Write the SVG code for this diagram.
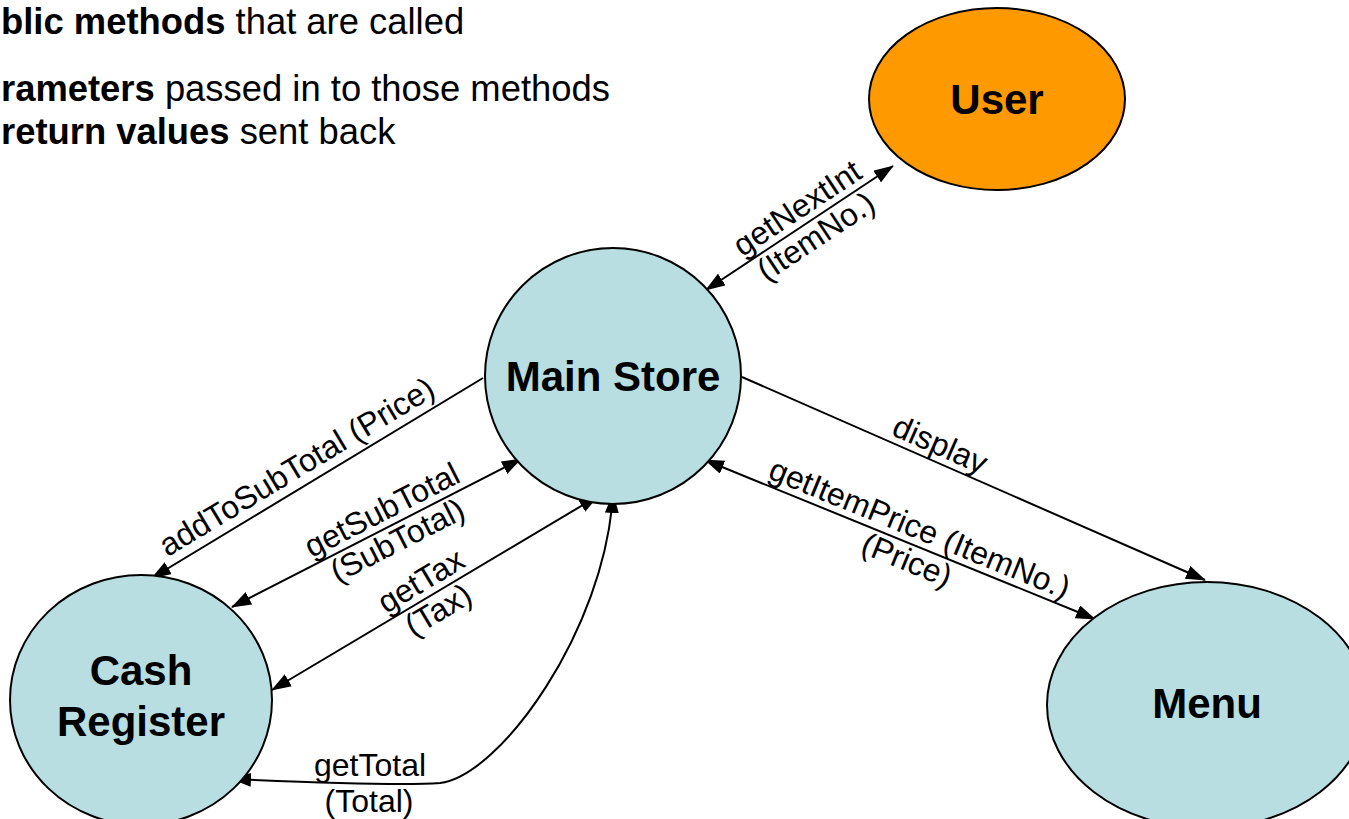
<svg xmlns="http://www.w3.org/2000/svg" width="1349" height="819" viewBox="0 0 1349 819">
<style>
.node{stroke:#000;stroke-width:2}
.blue{fill:#B8DEE1}
.orange{fill:#FF9900}
.nt{font-family:"Liberation Sans",Arial,sans-serif;font-weight:bold;font-size:42px;text-anchor:middle;fill:#000}
.lbl{font-family:"Liberation Sans",Arial,sans-serif;font-size:32px;text-anchor:middle;fill:#000}
.hd{font-family:"Liberation Sans",Arial,sans-serif;font-size:36.4px;fill:#000}
.c{fill:none;stroke:#000;stroke-width:2}
</style>
<defs>
<marker id="ah" viewBox="0 0 20 14" refX="19" refY="7" markerWidth="20" markerHeight="14" markerUnits="userSpaceOnUse" orient="auto-start-reverse">
<path d="M0,0 L20,7 L0,14 Z" fill="#000"/>
</marker>
</defs>
<g id="header">
<text class="hd" x="1" y="34"><tspan font-weight="bold">blic methods</tspan> that are called</text>
<text class="hd" x="1" y="101"><tspan font-weight="bold">rameters</tspan> passed in to those methods</text>
<text class="hd" x="1" y="144"><tspan font-weight="bold">return values</tspan> sent back</text>
</g>
<g id="connectors">
<line class="c" x1="706" y1="290" x2="893" y2="166" marker-start="url(#ah)" marker-end="url(#ah)"/>
<line class="c" x1="483" y1="378" x2="152" y2="578" marker-end="url(#ah)"/>
<line class="c" x1="232" y1="607" x2="521" y2="459" marker-start="url(#ah)" marker-end="url(#ah)"/>
<line class="c" x1="272" y1="690" x2="598" y2="496" marker-start="url(#ah)" marker-end="url(#ah)"/>
<path class="c" d="M232,779 C300,782 400,786 440,783 C500,776 605,630 613,494" marker-start="url(#ah)" marker-end="url(#ah)"/>
<line class="c" x1="742" y1="377" x2="1205" y2="580" marker-end="url(#ah)"/>
<line class="c" x1="705" y1="460" x2="1095" y2="619" marker-start="url(#ah)" marker-end="url(#ah)"/>
<g transform="translate(807,223) rotate(-33.5)"><text class="lbl" y="-7">getNextInt</text><text class="lbl" y="27">(ItemNo.)</text></g>
<g transform="translate(306,482) rotate(-31.1)"><text class="lbl" y="-7">addToSubTotal (Price)</text></g>
<g transform="translate(390,526) rotate(-27.1)"><text class="lbl" y="-7">getSubTotal</text><text class="lbl" y="27">(SubTotal)</text></g>
<g transform="translate(430,596) rotate(-30.8)"><text class="lbl" y="-7">getTax</text><text class="lbl" y="27">(Tax)</text></g>
<g transform="translate(933,461) rotate(23.7)"><text class="lbl" y="-7">display</text></g>
<g transform="translate(913,545) rotate(22.2)"><text class="lbl" y="-7">getItemPrice (ItemNo.)</text><text class="lbl" y="27">(Price)</text></g>
<text class="lbl" x="370" y="776">getTotal</text>
<text class="lbl" x="369" y="812">(Total)</text>
</g>
<g id="user"><ellipse class="node orange" cx="997" cy="99" rx="128" ry="91"/><text class="nt" x="997" y="114">User</text></g>
<g id="mainstore"><ellipse class="node blue" cx="613" cy="376" rx="128" ry="128"/><text class="nt" x="613" y="391">Main Store</text></g>
<g id="cashregister"><ellipse class="node blue" cx="141" cy="700" rx="131" ry="125"/><text class="nt" x="141" y="685">Cash</text><text class="nt" x="141" y="736">Register</text></g>
<g id="menu"><ellipse class="node blue" cx="1207" cy="705" rx="160" ry="123"/><text class="nt" x="1207" y="718">Menu</text></g>
</svg>
